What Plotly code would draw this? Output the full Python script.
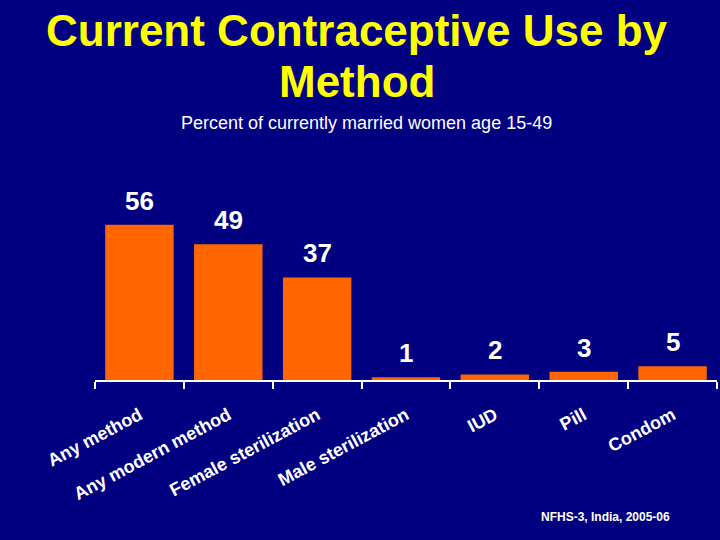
import plotly.graph_objects as go

categories = ["Any method", "Any modern method", "Female sterilization",
              "Male sterilization", "IUD", "Pill", "Condom"]
values = [56, 49, 37, 1, 2, 3, 5]
value_labels = ["56", "49", "37", "1", "2", "3", "5"]
title_lines = ["Current Contraceptive Use by", "Method"]
subtitle = "Percent of currently married women age 15-49"
source_note = "NFHS-3, India, 2005-06"

BG = "#000080"
BAR = "#FF6600"
FONT = "Liberation Sans, Arial, sans-serif"

fig = go.Figure()
fig.add_trace(go.Bar(
    x=categories, y=values, marker=dict(color=BAR, line=dict(width=0)),
    hoverinfo="skip",
))

annotations = []
for c, v, t in zip(categories, values, value_labels):
    annotations.append(dict(
        x=c, y=v, xref="x", yref="y", text=t, showarrow=False,
        yanchor="bottom", yshift=7,
        font=dict(family=FONT, size=26, color="white", weight="bold"),
    ))

for line, ypos in zip(title_lines, [1.804, 1.5387]):
    annotations.append(dict(
        x=0.4212, y=ypos, xref="paper", yref="paper", showarrow=False,
        text=line, xanchor="center", yanchor="middle",
        font=dict(family=FONT, size=44, color="#FFFF00", weight="bold"),
    ))

annotations.append(dict(
    x=0.4357, y=1.3247, xref="paper", yref="paper", showarrow=False,
    text=subtitle,
    font=dict(family=FONT, size=18, color="white"),
    xanchor="center", yanchor="middle",
))
annotations.append(dict(
    x=0.821, y=-0.706, xref="paper", yref="paper", showarrow=False,
    text=source_note,
    font=dict(family=FONT, size=12, color="white", weight="bold"),
    xanchor="center", yanchor="middle",
))

fig.update_layout(
    width=720, height=540,
    paper_bgcolor=BG, plot_bgcolor=BG,
    margin=dict(l=95, r=3, t=186, b=160, autoexpand=False),
    showlegend=False,
    bargap=0.23,
    annotations=annotations,
    xaxis=dict(
        type="category",
        showline=True, linecolor="white", linewidth=1.5,
        ticks="outside", tickson="boundaries", ticklen=7, tickcolor="white", tickwidth=1.5,
        tickangle=-28, ticklabelstandoff=16,
        tickfont=dict(family=FONT, size=18, color="white", weight="bold"),
        showgrid=False, zeroline=False,
        range=[-0.5, 6.5],
    ),
    yaxis=dict(
        range=[0, 70], visible=False, showgrid=False, zeroline=False,
    ),
)

fig.write_html(
    "out.html",
    config={"displayModeBar": False},
    post_script="document.body.style.margin='0';document.body.style.background='#000080';",
)
